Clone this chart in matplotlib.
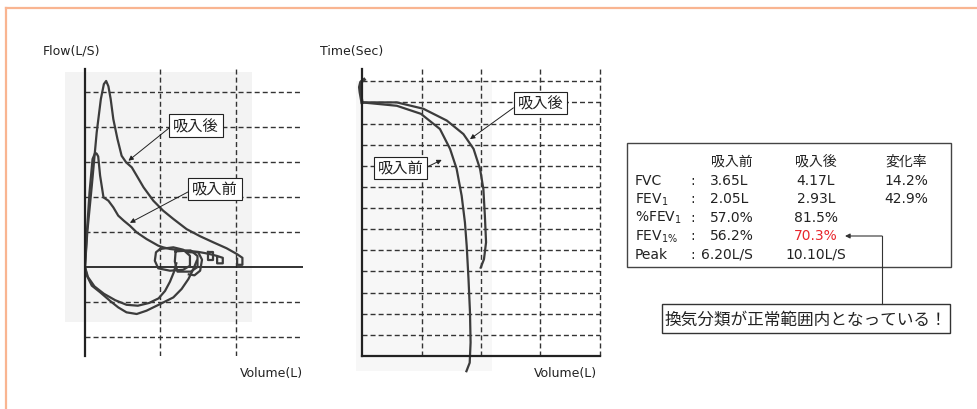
import matplotlib.pyplot as plt
import numpy as np
from matplotlib.patches import Rectangle

plt.rcParams['font.family'] = ['DejaVu Sans', 'Noto Sans CJK JP']

# flow-volume loop: volume (L) / flow (L/s)
post_exp_vol = [0, 0.06, 0.18, 0.31, 0.42, 0.50, 0.56, 0.62, 0.68, 0.75, 0.86, 0.97, 1.09, 1.24,
                1.37, 1.55, 1.81, 2.07, 2.34, 2.69, 3.05, 3.40, 3.75, 4.02, 4.17, 4.17, 4.03, 4.03]
post_exp_flow = [0, 1.88, 4.41, 7.31, 9.12, 9.93, 10.10, 9.81, 9.12, 8.03, 6.95, 6.04, 5.68, 5.41,
                 4.96, 4.33, 3.60, 3.06, 2.61, 2.06, 1.67, 1.34, 1.02, 0.71, 0.50, 0.12, 0.12, 0.45]

pre_exp_vol = [0, 0.05, 0.12, 0.20, 0.27, 0.31, 0.35, 0.40, 0.49, 0.62, 0.75, 0.88, 1.03, 1.19, 1.37,
               1.63, 1.94, 2.07, 2.25, 2.50, 2.78, 3.00, 3.17, 3.35, 3.50, 3.65, 3.65, 3.50, 3.50]
pre_exp_flow = [0, 1.88, 4.06, 5.86, 6.20, 6.15, 6.00, 4.96, 3.78, 3.60, 3.24, 2.79, 2.51, 2.24, 1.88,
                1.52, 1.16, 1.07, 0.98, 0.92, 0.87, 0.82, 0.76, 0.68, 0.60, 0.50, 0.20, 0.20, 0.50]

insp_a_vol = [0, 0.05, 0.18, 0.40, 0.66, 0.88, 1.10, 1.37, 1.63, 1.99, 2.34, 2.56, 2.74, 2.87, 2.96]
insp_a_flow = [0, -0.47, -1.01, -1.37, -1.83, -2.19, -2.46, -2.55, -2.37, -2.01, -1.65, -1.19, -0.65, -0.11, 0.34]
insp_b_vol = [0, 0.08, 0.25, 0.50, 0.80, 1.10, 1.40, 1.70, 1.95, 2.12, 2.25, 2.35, 2.42]
insp_b_flow = [0, -0.55, -1.05, -1.45, -1.80, -2.05, -2.10, -1.95, -1.70, -1.30, -0.80, -0.30, 0.20]

# tidal breathing loops
loop1_vol = [1.99, 2.34, 2.60, 2.78, 2.78, 2.60, 2.25, 1.94, 1.85, 1.88, 1.99]
loop1_flow = [0.98, 1.07, 0.94, 0.61, 0.07, -0.15, -0.20, -0.07, 0.34, 0.80, 0.98]
loop2_vol = [2.40, 2.80, 2.98, 2.98, 2.80, 2.45, 2.38, 2.40]
loop2_flow = [0.85, 0.90, 0.60, 0.00, -0.25, -0.25, 0.30, 0.85]
loop3_vol = [2.72, 3.00, 3.10, 3.05, 2.90, 2.75]
loop3_flow = [0.80, 0.80, 0.40, -0.20, -0.45, -0.40]
loop4_vol = [3.26, 3.38, 3.38, 3.26, 3.26]
loop4_flow = [0.80, 0.80, 0.40, 0.40, 0.80]

# volume-time curves: volume (L) / time (s)
post_vt_vol = [0, 1.17, 2.06, 2.85, 3.41, 3.75, 3.97, 4.08, 4.13, 4.17, 4.10, 3.99]
post_vt_time = [0, 0.00, 0.15, 0.43, 0.75, 1.10, 1.58, 2.05, 2.68, 3.31, 3.71, 3.91]
pre_vt_vol = [0, 1.17, 1.98, 2.62, 2.96, 3.18, 3.35, 3.46, 3.52, 3.58, 3.63, 3.65, 3.62, 3.51]
pre_vt_time = [0, 0.08, 0.27, 0.63, 1.10, 1.57, 2.21, 2.84, 3.40, 4.18, 4.97, 5.68, 6.16, 6.36]
hook_vol = [0.0, -0.06, -0.08, -0.04, 0.07]
hook_time = [0.0, -0.24, -0.36, -0.48, -0.54]

# results table
row_labels = ['FVC', 'FEV$_1$', '%FEV$_1$', 'FEV$_{1\\%}$', 'Peak']
pre_vals = ['3.65L', '2.05L', '57.0%', '56.2%', '6.20L/S']
post_vals = ['4.17L', '2.93L', '81.5%', '70.3%', '10.10L/S']
change_vals = ['14.2%', '42.9%', '', '', '']
headers = ['吸入前', '吸入後', '変化率']

ink = '#222222'
curve = '#3c3c3c'
dash = (0, (3.6, 2.2))

fig = plt.figure(figsize=(9.77, 4.10), dpi=100)

# pixel-space layer for frame, labels and the table
ov = fig.add_axes([0, 0, 1, 1], zorder=0)
ov.set_xlim(0, 977)
ov.set_ylim(410, 0)
ov.axis('off')

ov.plot([6, 977], [9, 9], color='#f9b591', lw=1.6)
ov.plot([6, 6], [9, 410], color='#f9b591', lw=1.6)
ov.add_patch(Rectangle((65, 73), 187, 250, fc='#f3f3f3', ec='none'))
ov.add_patch(Rectangle((356, 82), 136, 290, fc='#f7f7f7', ec='none'))

ov.text(43, 51, 'Flow(L/S)', fontsize=9, va='center', color=ink)
ov.text(320, 51, 'Time(Sec)', fontsize=9, va='center', color=ink)
ov.text(303, 374, 'Volume(L)', fontsize=9, va='center', ha='right', color=ink)
ov.text(597, 374, 'Volume(L)', fontsize=9, va='center', ha='right', color=ink)

# flow-volume
ax1 = fig.add_axes([85 / 977, 1 - 357 / 410, 218 / 977, 287 / 410], zorder=1)
ax1.patch.set_alpha(0)
ax1.set_xlim(0, 5.775)
ax1.set_ylim(-4.83, 10.75)
for s in ['top', 'right', 'bottom']:
    ax1.spines[s].set_visible(False)
ax1.spines['left'].set_linewidth(1.6)
ax1.spines['left'].set_color(ink)
ax1.set_xticks([])
ax1.set_yticks([])
for k in [-2, -1, 1, 2, 3, 4, 5]:
    ax1.axhline(k * 1.9, color='#333333', lw=1, ls=dash)
for v in [2, 4]:
    ax1.axvline(v, color='#333333', lw=1, ls=dash)
ax1.axhline(0, color=ink, lw=1.3)

for xs, ys in [(post_exp_vol, post_exp_flow), (pre_exp_vol, pre_exp_flow),
               (insp_a_vol, insp_a_flow), (insp_b_vol, insp_b_flow),
               (loop1_vol, loop1_flow), (loop2_vol, loop2_flow),
               (loop3_vol, loop3_flow), (loop4_vol, loop4_flow)]:
    ax1.plot(xs, ys, color=curve, lw=1.6, solid_joinstyle='round')

box = dict(boxstyle='square,pad=0.25', fc='white', ec=ink, lw=0.8)
ax1.annotate('吸入後', xy=(1.15, 5.77), xytext=(196, 126.5), textcoords=ov.transData,
             ha='center', va='center', fontsize=11, color=ink, bbox=box,
             arrowprops=dict(arrowstyle='-|>', color=ink, lw=0.7, mutation_scale=7,
                             relpos=(0, 0.55), shrinkA=0, shrinkB=0))
ax1.annotate('吸入前', xy=(1.19, 2.40), xytext=(215, 190), textcoords=ov.transData,
             ha='center', va='center', fontsize=11, color=ink, bbox=box,
             arrowprops=dict(arrowstyle='-|>', color=ink, lw=0.7, mutation_scale=7,
                             relpos=(0, 0.45), shrinkA=0, shrinkB=0))

# volume-time
ax2 = fig.add_axes([362 / 977, 1 - 357 / 410, 238 / 977, 287 / 410], zorder=1)
ax2.patch.set_alpha(0)
ax2.set_xlim(0, 8)
ax2.set_ylim(6.0, -0.79)
for s in ['top', 'right']:
    ax2.spines[s].set_visible(False)
for s in ['left', 'bottom']:
    ax2.spines[s].set_linewidth(1.6)
    ax2.spines[s].set_color(ink)
ax2.set_xticks([])
ax2.set_yticks([])
for t in np.arange(-0.5, 5.6, 0.5):
    ax2.axhline(t, color='#333333', lw=1, ls=dash)
for v in [2, 4, 6, 8]:
    ax2.axvline(v, color='#333333', lw=1, ls=dash, clip_on=False)

ax2.plot(post_vt_vol, post_vt_time, color=curve, lw=1.6, clip_on=False)
ax2.plot(pre_vt_vol, pre_vt_time, color=curve, lw=1.6, clip_on=False)
ax2.plot(hook_vol, hook_time, color=curve, lw=2.4, clip_on=False)

ax2.annotate('吸入後', xy=(3.63, 0.87), xytext=(540.5, 104), textcoords=ov.transData,
             ha='center', va='center', fontsize=11, color=ink, bbox=box,
             arrowprops=dict(arrowstyle='-|>', color=ink, lw=0.7, mutation_scale=7,
                             relpos=(0, 0.38), shrinkA=0, shrinkB=0))
ax2.annotate('吸入前', xy=(2.68, 1.36), xytext=(400.5, 169), textcoords=ov.transData,
             ha='center', va='center', fontsize=11, color=ink, bbox=box,
             arrowprops=dict(arrowstyle='-|>', color=ink, lw=0.7, mutation_scale=7,
                             relpos=(1, 0.45), shrinkA=0, shrinkB=0))

# table of results
ov.add_patch(Rectangle((627, 144), 324, 124, fill=False, ec='#444444', lw=1))
for x, h in zip([732, 816, 906], headers):
    ov.text(x, 162, h, fontsize=10, ha='center', va='center', color=ink)
row_y = [181, 199.5, 218, 236.5, 255]
for i, y in enumerate(row_y):
    ov.text(635, y, row_labels[i], fontsize=10, va='center', color=ink)
    ov.text(693, y, ':', fontsize=10, ha='center', va='center', color=ink)
    px = 701 if i == 4 else 710
    ov.text(px, y, pre_vals[i], fontsize=10, va='center', color=ink)
    c = '#e8262c' if post_vals[i] == '70.3%' else ink
    ov.text(816, y, post_vals[i], fontsize=10, ha='center', va='center', color=c)
    if change_vals[i]:
        ov.text(906, y, change_vals[i], fontsize=10, ha='center', va='center', color=ink)

ov.annotate('', xy=(845, 237), xytext=(882, 237),
            arrowprops=dict(arrowstyle='-|>', color='#333333', lw=0.8, mutation_scale=7,
                            shrinkA=0, shrinkB=0))
ov.plot([882, 882], [237, 305], color='#333333', lw=0.8)
ov.add_patch(Rectangle((662, 305), 288, 29, fc='white', ec='#333333', lw=1))
ov.text(806, 320, '換気分類が正常範囲内となっている！', fontsize=12, ha='center', va='center', color=ink)

fig.savefig('out.png', dpi=100)
